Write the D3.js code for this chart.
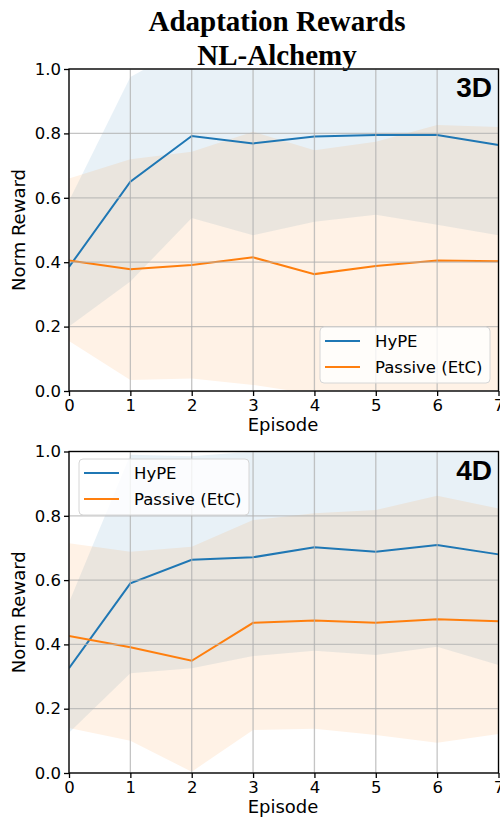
<!DOCTYPE html>
<html>
<head>
<meta charset="utf-8">
<script src="https://cdn.jsdelivr.net/npm/d3@7"></script>
<style>
  body { margin: 0; background: #fff; }
  svg { display: block; }
</style>
</head>
<body>
<div id="chart"></div>
<script>
// Data
const episodes = [0, 1, 2, 3, 4, 5, 6, 7];
const yTicks = [0.0, 0.2, 0.4, 0.6, 0.8, 1.0];
const seriesNames = ['HyPE', 'Passive (EtC)'];

// 3D panel
const hype3D = [0.385, 0.650, 0.792, 0.769, 0.790, 0.795, 0.795, 0.764];
const hype3DLow = [0.20, 0.34, 0.537, 0.484, 0.526, 0.547, 0.516, 0.484];
const hype3DHigh = [0.59, 0.975, 1.08, 1.10, 1.10, 1.10, 1.10, 1.08];
const passive3D = [0.405, 0.378, 0.391, 0.415, 0.363, 0.388, 0.405, 0.403];
const passive3DLow = [0.155, 0.034, 0.039, 0.019, -0.01, -0.03, -0.03, -0.02];
const passive3DHigh = [0.66, 0.72, 0.743, 0.805, 0.748, 0.774, 0.826, 0.82];

// 4D panel
const hype4D = [0.326, 0.590, 0.663, 0.671, 0.702, 0.688, 0.709, 0.680];
const hype4DLow = [0.125, 0.31, 0.326, 0.364, 0.380, 0.367, 0.393, 0.336];
const hype4DHigh = [0.53, 0.99, 0.985, 1.0, 1.05, 1.05, 1.08, 1.05];
const passive4D = [0.426, 0.391, 0.349, 0.467, 0.474, 0.467, 0.478, 0.472];
const passive4DLow = [0.14, 0.100, 0.004, 0.134, 0.138, 0.118, 0.094, 0.121];
const passive4DHigh = [0.715, 0.688, 0.704, 0.787, 0.808, 0.818, 0.862, 0.823];

const colors = ['#1f77b4', '#ff7f0e'];
const W = 500, H = 817;
const tickFont = 'DejaVu Sans, sans-serif';

const svg = d3.select('#chart').append('svg')
  .attr('width', W)
  .attr('height', H);

// Title
const title = svg.append('text')
  .attr('x', 277)
  .attr('text-anchor', 'middle')
  .style('font-family', 'Liberation Serif, Times New Roman, serif')
  .style('font-weight', 'bold')
  .style('font-size', '29px')
  .style('fill', '#000');
title.append('tspan').attr('x', 277).attr('y', 31).text('Adaptation Rewards');
title.append('tspan').attr('x', 277).attr('y', 65).text('NL-Alchemy');

function drawPanel(p) {
  const x = d3.scaleLinear().domain([0, 7]).range([69, 498.5]);
  const y = d3.scaleLinear().domain([0, 1]).range([p.bottom, p.top]);

  const g = svg.append('g');

  g.append('clipPath').attr('id', 'clip-' + p.id)
    .append('rect')
    .attr('x', x(0)).attr('y', y(1))
    .attr('width', x(7) - x(0)).attr('height', y(0) - y(1));

  const plot = g.append('g').attr('clip-path', `url(#clip-${p.id})`);

  const area = (lo, hi) => d3.area()
    .x((d, i) => x(episodes[i]))
    .y0((d, i) => y(lo[i]))
    .y1((d, i) => y(hi[i]));

  // shaded bands
  p.series.forEach((s, i) => {
    plot.append('path')
      .datum(s.mean)
      .attr('d', area(s.low, s.high))
      .attr('fill', colors[i])
      .attr('fill-opacity', 0.1);
  });

  // grid
  g.append('g')
    .selectAll('line.vx')
    .data(episodes)
    .join('line')
    .attr('x1', d => x(d)).attr('x2', d => x(d))
    .attr('y1', y(0)).attr('y2', y(1))
    .attr('stroke', '#b0b0b0')
    .attr('stroke-opacity', 0.75)
    .attr('stroke-width', 1.3);
  g.append('g')
    .selectAll('line.hy')
    .data(yTicks)
    .join('line')
    .attr('x1', x(0)).attr('x2', x(7))
    .attr('y1', d => y(d)).attr('y2', d => y(d))
    .attr('stroke', '#b0b0b0')
    .attr('stroke-opacity', 0.75)
    .attr('stroke-width', 1.3);

  // mean lines
  const line = d3.line().x((d, i) => x(episodes[i])).y(d => y(d));
  p.series.forEach((s, i) => {
    plot.append('path')
      .datum(s.mean)
      .attr('d', line)
      .attr('fill', 'none')
      .attr('stroke', colors[i])
      .attr('stroke-width', 2);
  });

  // axes
  const xAxis = g.append('g')
    .attr('transform', `translate(0,${y(0)})`)
    .call(d3.axisBottom(x).tickValues(episodes).tickFormat(d3.format('d')).tickSize(5).tickPadding(3));
  const yAxis = g.append('g')
    .attr('transform', `translate(${x(0)},0)`)
    .call(d3.axisLeft(y).tickValues(yTicks).tickFormat(d3.format('.1f')).tickSize(5).tickPadding(3));
  [xAxis, yAxis].forEach(a => {
    a.select('.domain').remove();
    a.selectAll('line').attr('stroke', '#000').attr('stroke-width', 1.3);
    a.selectAll('text')
      .style('font-family', tickFont)
      .style('font-size', '16.5px')
      .style('fill', '#000');
  });

  // frame
  g.append('rect')
    .attr('x', x(0)).attr('y', y(1))
    .attr('width', x(7) - x(0)).attr('height', y(0) - y(1))
    .attr('fill', 'none')
    .attr('stroke', '#000')
    .attr('stroke-width', 1.3);

  // axis labels
  g.append('text')
    .attr('x', 283)
    .attr('y', y(0) + 40)
    .attr('text-anchor', 'middle')
    .style('font-family', tickFont)
    .style('font-size', '18px')
    .text('Episode');
  g.append('text')
    .attr('transform', `translate(25,${(y(0) + y(1)) / 2}) rotate(-90)`)
    .attr('text-anchor', 'middle')
    .style('font-family', tickFont)
    .style('font-size', '18px')
    .text('Norm Reward');

  // panel tag
  g.append('text')
    .attr('x', 492)
    .attr('y', y(1) + 28)
    .attr('text-anchor', 'end')
    .style('font-family', 'Liberation Sans, Arial, sans-serif')
    .style('font-weight', 'bold')
    .style('font-size', '28px')
    .text(p.tag);

  // legend
  const lg = g.append('g').attr('transform', `translate(${p.legend[0]},${p.legend[1]})`);
  lg.append('rect')
    .attr('width', 170).attr('height', 56)
    .attr('rx', 4)
    .attr('fill', '#fff').attr('fill-opacity', 0.8)
    .attr('stroke', '#d6d6d6');
  seriesNames.forEach((name, i) => {
    lg.append('line')
      .attr('x1', 5).attr('x2', 40)
      .attr('y1', 14 + i * 26).attr('y2', 14 + i * 26)
      .attr('stroke', colors[i])
      .attr('stroke-width', 2);
    lg.append('text')
      .attr('x', 55)
      .attr('y', 20 + i * 26)
      .style('font-family', tickFont)
      .style('font-size', '16.5px')
      .text(name);
  });
}

drawPanel({
  id: 'p3d', tag: '3D', top: 69, bottom: 391, legend: [320, 327],
  series: [
    { mean: hype3D, low: hype3DLow, high: hype3DHigh },
    { mean: passive3D, low: passive3DLow, high: passive3DHigh }
  ]
});
drawPanel({
  id: 'p4d', tag: '4D', top: 451.5, bottom: 773, legend: [79, 459],
  series: [
    { mean: hype4D, low: hype4DLow, high: hype4DHigh },
    { mean: passive4D, low: passive4DLow, high: passive4DHigh }
  ]
});
</script>
</body>
</html>
